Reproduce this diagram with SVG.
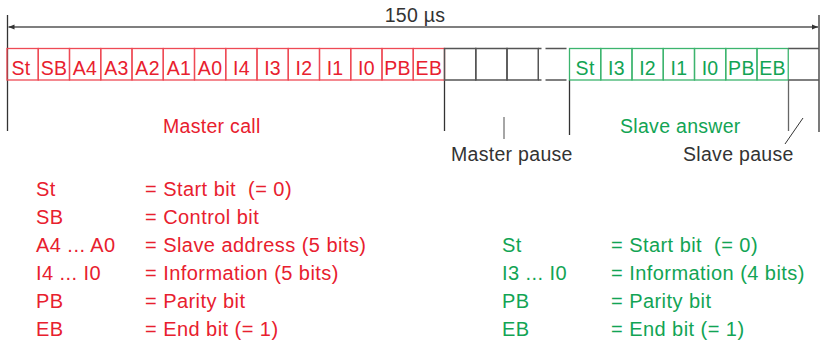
<svg xmlns="http://www.w3.org/2000/svg" width="820" height="340" viewBox="0 0 820 340">
<style>
text{font-family:"Liberation Sans",Arial,sans-serif;font-size:19.5px;letter-spacing:0.3px;white-space:pre}
.lgd text{font-size:20px;letter-spacing:0.45px}
.r{fill:#e8202e}
.g{fill:#12a454}
.k{fill:#333}
.rc{fill:none;stroke:#ee4a55;stroke-width:1.3}
.gc{fill:none;stroke:#3cb46e;stroke-width:1.3}
.pc{fill:none;stroke:#555;stroke-width:1.5}
.c{text-anchor:middle}
.ln{stroke:#333;stroke-width:1.3;fill:none}
.lg{stroke:#666;stroke-width:1.3;fill:none}
</style>
<defs>
<marker id="ah" viewBox="0 0 10 10" refX="10" refY="5" markerWidth="7" markerHeight="6" orient="auto-start-reverse" markerUnits="userSpaceOnUse">
<path d="M0,1 L10,5 L0,9 z" fill="#333"/>
</marker>
</defs>

<g id="duration">
<text x="415" y="22" class="k c">150 µs</text>
</g>

<g id="connectors">
<line class="ln" x1="7.5" y1="15" x2="7.5" y2="131"/>
<line class="ln" x1="819" y1="15" x2="819" y2="132"/>
<line x1="8.5" y1="27" x2="818" y2="27" stroke="#555" stroke-width="1.3" marker-start="url(#ah)" marker-end="url(#ah)"/>
<line class="ln" x1="444.5" y1="80" x2="444.5" y2="131"/>
<line class="ln" x1="569.5" y1="80" x2="569.5" y2="135"/>
<line class="lg" x1="788.5" y1="80" x2="788.5" y2="131"/>
<line stroke="#888" stroke-width="1.5" x1="504" y1="117" x2="504" y2="139"/>
<line stroke="#333" stroke-width="1" x1="803" y1="118" x2="785" y2="144"/>
</g>

<g id="master-call">
<g id="m-St"><rect class="rc" x="7" y="48.5" width="31.25" height="31.5"/><text class="r c" x="21" y="75">St</text></g>
<g id="m-SB"><rect class="rc" x="38.25" y="48.5" width="31.25" height="31.5"/><text class="r c" x="54" y="75">SB</text></g>
<g id="m-A4"><rect class="rc" x="69.5" y="48.5" width="31.25" height="31.5"/><text class="r c" x="85" y="75">A4</text></g>
<g id="m-A3"><rect class="rc" x="100.75" y="48.5" width="31.25" height="31.5"/><text class="r c" x="116.4" y="75">A3</text></g>
<g id="m-A2"><rect class="rc" x="132" y="48.5" width="31.25" height="31.5"/><text class="r c" x="147.6" y="75">A2</text></g>
<g id="m-A1"><rect class="rc" x="163.25" y="48.5" width="31.25" height="31.5"/><text class="r c" x="178.9" y="75">A1</text></g>
<g id="m-A0"><rect class="rc" x="194.5" y="48.5" width="31.25" height="31.5"/><text class="r c" x="210.1" y="75">A0</text></g>
<g id="m-I4"><rect class="rc" x="225.75" y="48.5" width="31.25" height="31.5"/><text class="r c" x="241.4" y="75">I4</text></g>
<g id="m-I3"><rect class="rc" x="257" y="48.5" width="31.25" height="31.5"/><text class="r c" x="272.6" y="75">I3</text></g>
<g id="m-I2"><rect class="rc" x="288.25" y="48.5" width="31.25" height="31.5"/><text class="r c" x="303.9" y="75">I2</text></g>
<g id="m-I1"><rect class="rc" x="319.5" y="48.5" width="31.25" height="31.5"/><text class="r c" x="335.1" y="75">I1</text></g>
<g id="m-I0"><rect class="rc" x="350.75" y="48.5" width="31.25" height="31.5"/><text class="r c" x="366.4" y="75">I0</text></g>
<g id="m-PB"><rect class="rc" x="382" y="48.5" width="31.25" height="31.5"/><text class="r c" x="397.6" y="75">PB</text></g>
<g id="m-EB"><rect class="rc" x="413.25" y="48.5" width="31.25" height="31.5"/><text class="r c" x="428.9" y="75">EB</text></g>
</g>

<g id="master-pause-cells">
<rect class="pc" x="444.5" y="48.5" width="31.25" height="31.5"/>
<rect class="pc" x="475.75" y="48.5" width="31.25" height="31.5"/>
<rect class="pc" x="507" y="48.5" width="31.25" height="31.5"/>
<path class="pc" d="M538.25,48.5 H541.5 M545.5,48.5 H566.5 M538.25,80 H541.5 M545.5,80 H566.5"/>
</g>

<g id="slave-answer">
<g id="s-St"><rect class="gc" x="569.5" y="48.5" width="31.25" height="31.5"/><text class="g c" x="585.1" y="75">St</text></g>
<g id="s-I3"><rect class="gc" x="600.75" y="48.5" width="31.25" height="31.5"/><text class="g c" x="616.4" y="75">I3</text></g>
<g id="s-I2"><rect class="gc" x="632" y="48.5" width="31.25" height="31.5"/><text class="g c" x="647.6" y="75">I2</text></g>
<g id="s-I1"><rect class="gc" x="663.25" y="48.5" width="31.25" height="31.5"/><text class="g c" x="678.9" y="75">I1</text></g>
<g id="s-I0"><rect class="gc" x="694.5" y="48.5" width="31.25" height="31.5"/><text class="g c" x="710.1" y="75">I0</text></g>
<g id="s-PB"><rect class="gc" x="725.75" y="48.5" width="31.25" height="31.5"/><text class="g c" x="741.4" y="75">PB</text></g>
<g id="s-EB"><rect class="gc" x="757" y="48.5" width="31.25" height="31.5"/><text class="g c" x="772.6" y="75">EB</text></g>
</g>

<g id="slave-pause-cell">
<path class="pc" d="M788.25,48.5 H819 M788.25,80 H819"/>
</g>

<g id="labels">
<text class="r" x="163" y="133">Master call</text>
<text class="g" x="620" y="133">Slave answer</text>
<text class="k" x="451" y="161">Master pause</text>
<text class="k" x="683" y="161">Slave pause</text>
</g>

<g id="legend-master" class="lgd">
<text class="r" x="36" y="196">St</text><text class="r" x="145" y="196">= Start bit  (= 0)</text>
<text class="r" x="36" y="224">SB</text><text class="r" x="145" y="224">= Control bit</text>
<text class="r" x="36" y="252">A4 ... A0</text><text class="r" x="145" y="252">= Slave address (5 bits)</text>
<text class="r" x="36" y="280">I4 ... I0</text><text class="r" x="145" y="280">= Information (5 bits)</text>
<text class="r" x="36" y="308">PB</text><text class="r" x="145" y="308">= Parity bit</text>
<text class="r" x="36" y="336">EB</text><text class="r" x="145" y="336">= End bit (= 1)</text>
</g>

<g id="legend-slave" class="lgd">
<text class="g" x="502" y="252">St</text><text class="g" x="611" y="252">= Start bit  (= 0)</text>
<text class="g" x="502" y="280">I3 ... I0</text><text class="g" x="611" y="280">= Information (4 bits)</text>
<text class="g" x="502" y="308">PB</text><text class="g" x="611" y="308">= Parity bit</text>
<text class="g" x="502" y="336">EB</text><text class="g" x="611" y="336">= End bit (= 1)</text>
</g>
</svg>
